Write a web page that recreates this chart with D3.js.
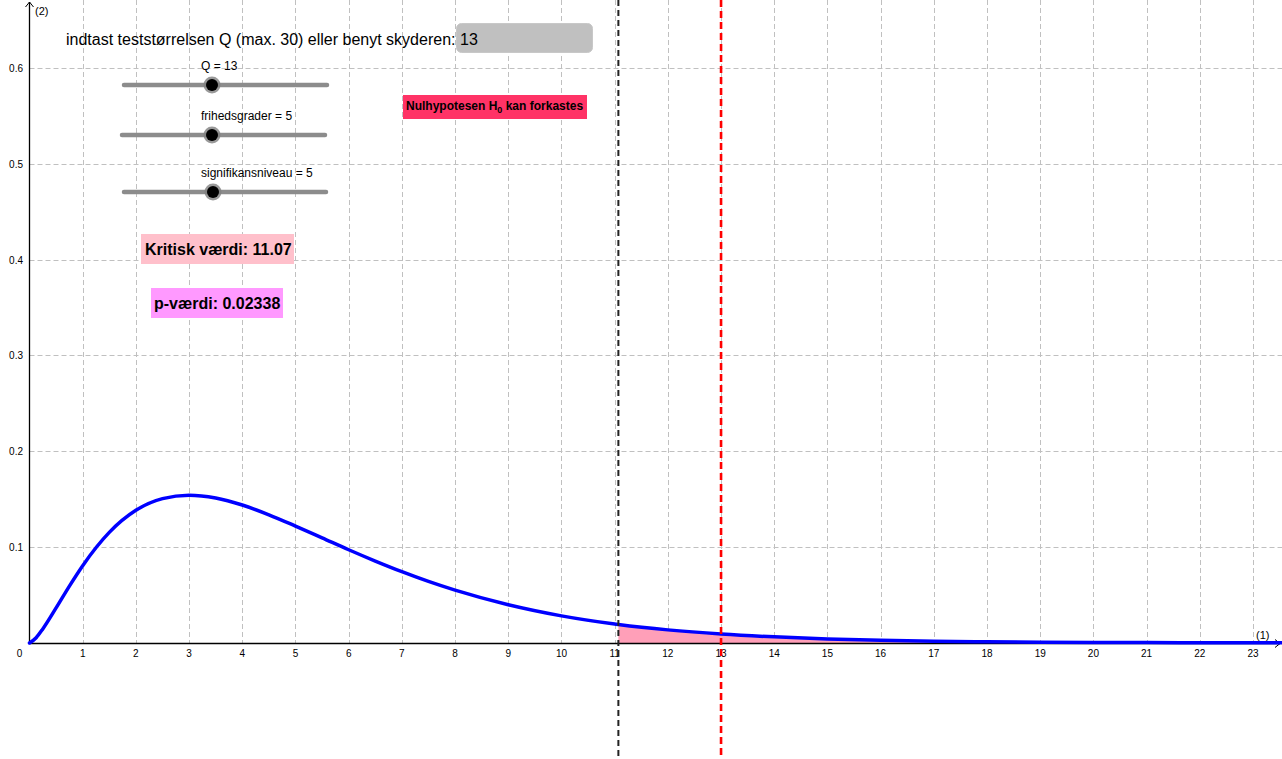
<!DOCTYPE html>
<html>
<head>
<meta charset="utf-8">
<script src="https://cdn.jsdelivr.net/npm/d3@7"></script>
<style>
  body { margin: 0; background: #fff; }
  svg { display: block; font-family: "Liberation Sans", Arial, sans-serif; }
</style>
</head>
<body>
<svg id="chart" width="1282" height="759"></svg>
<script>
// chi-square curve (5 df)
const curveX = [0, 0.125, 0.25, 0.5, 0.75, 1, 1.5, 2, 2.5, 3, 3.5, 4, 4.5, 5, 5.5, 6, 6.5, 7, 7.5, 8, 9, 10, 11, 11.07, 12, 13, 14, 15, 16, 17, 18, 19, 20, 21, 22, 23, 24];
const curveY = [0, 0.0055, 0.0147, 0.0366, 0.0594, 0.0807, 0.1154, 0.1384, 0.1506, 0.1542, 0.1513, 0.1440, 0.1338, 0.1220, 0.1097, 0.0973, 0.0855, 0.0744, 0.0642, 0.0551, 0.0399, 0.0283, 0.0198, 0.0193, 0.0137, 0.0094, 0.0064, 0.0043, 0.0029, 0.0019, 0.0013, 0.0008, 0.0005, 0.0004, 0.0002, 0.0002, 0.0001];

const xTicks = d3.range(0, 24);
const yTicks = [0.1, 0.2, 0.3, 0.4, 0.5, 0.6];

const Q = 13;
const critical = 11.07;
const pValue = 0.02338;
const df = 5;
const alpha = 5;

const sliders = [
  {label: 'Q = ' + Q, y: 85, x1: 124, x2: 327, knob: 212},
  {label: 'frihedsgrader = ' + df, y: 135, x1: 122, x2: 325, knob: 212},
  {label: 'signifikansniveau = ' + alpha, y: 192, x1: 124, x2: 326, knob: 213}
];

const width = 1282, height = 759;
const svg = d3.select('#chart');

const x = d3.scaleLinear().domain([0, 23]).range([29.5, 1253]);
const y = d3.scaleLinear().domain([0, 0.6]).range([643, 67.9]);

const pts = curveX.map((d, i) => ({x: d, y: curveY[i]}));

// grid
const grid = svg.append('g').attr('stroke', '#c0c0c0').attr('stroke-dasharray', '5,3').attr('stroke-width', 1);
grid.selectAll('.gx').data(xTicks.slice(1)).join('line')
  .attr('x1', d => Math.round(x(d)) + 0.5).attr('x2', d => Math.round(x(d)) + 0.5)
  .attr('y1', 0).attr('y2', y(0));
grid.selectAll('.gy').data(yTicks).join('line')
  .attr('x1', x(0)).attr('x2', width)
  .attr('y1', d => Math.round(y(d)) + 0.5).attr('y2', d => Math.round(y(d)) + 0.5);

// shaded tail
const tail = pts.filter(d => d.x >= critical);
svg.append('path')
  .datum(tail)
  .attr('fill', '#ff9fb8')
  .attr('d', d3.area().x(d => x(d.x)).y0(y(0)).y1(d => y(d.y)).curve(d3.curveMonotoneX));

// axes
const axisY0 = Math.round(y(0)) + 0.5;
svg.append('line').attr('x1', x(0)).attr('x2', width - 2).attr('y1', axisY0).attr('y2', axisY0)
  .attr('stroke', '#000').attr('stroke-width', 1.3);
svg.append('path').attr('d', `M${width - 7},${axisY0 - 4} L${width - 2},${axisY0} L${width - 7},${axisY0 + 4}`)
  .attr('fill', 'none').attr('stroke', '#000');
svg.append('line').attr('x1', x(0)).attr('x2', x(0)).attr('y1', 2).attr('y2', axisY0)
  .attr('stroke', '#000').attr('stroke-width', 1.3);
svg.append('path').attr('d', `M${x(0) - 4},7 L${x(0)},2 L${x(0) + 4},7`)
  .attr('fill', 'none').attr('stroke', '#000');
svg.append('text').attr('x', 35).attr('y', 15).attr('font-size', 11).text('(2)');
svg.append('text').attr('x', 1256).attr('y', 639).attr('font-size', 11).text('(1)');

svg.selectAll('.xl').data(xTicks).join('text')
  .attr('x', d => d === 0 ? x(0) - 10 : x(d))
  .attr('y', 657).attr('text-anchor', 'middle').attr('font-size', 10)
  .text(d => d);
svg.selectAll('.yl').data(yTicks).join('text')
  .attr('x', 23).attr('y', d => y(d) + 4).attr('text-anchor', 'end').attr('font-size', 10)
  .text(d => d);

// density curve
svg.append('path')
  .datum(pts)
  .attr('fill', 'none').attr('stroke', '#0000ff').attr('stroke-width', 3.5)
  .attr('stroke-linecap', 'round')
  .attr('d', d3.line().x(d => x(d.x)).y(d => y(d.y)).curve(d3.curveMonotoneX));

// critical value and Q lines
svg.append('line').attr('x1', x(critical)).attr('x2', x(critical)).attr('y1', 0).attr('y2', height)
  .attr('stroke', '#222').attr('stroke-width', 2).attr('stroke-dasharray', '6,4');
svg.append('line').attr('x1', x(Q)).attr('x2', x(Q)).attr('y1', 0).attr('y2', height)
  .attr('stroke', '#ff0000').attr('stroke-width', 2.6).attr('stroke-dasharray', '7,4');

// input field
svg.append('text').attr('x', 66).attr('y', 45).attr('font-size', 16).text('indtast teststørrelsen Q (max. 30) eller benyt skyderen:');
svg.append('rect').attr('x', 456.5).attr('y', 23.5).attr('width', 136).attr('height', 29).attr('rx', 5)
  .attr('fill', '#c0c0c0').attr('stroke', '#c8c8c8');
svg.append('text').attr('x', 460).attr('y', 45).attr('font-size', 16).text(Q);

// sliders
const sl = svg.selectAll('.slider').data(sliders).join('g');
sl.append('line').attr('x1', d => d.x1).attr('x2', d => d.x2).attr('y1', d => d.y).attr('y2', d => d.y)
  .attr('stroke', '#8c8c8c').attr('stroke-width', 4.5).attr('stroke-linecap', 'round');
sl.append('circle').attr('cx', d => d.knob).attr('cy', d => d.y).attr('r', 8.5).attr('fill', '#808080').attr('opacity', 0.8);
sl.append('circle').attr('cx', d => d.knob).attr('cy', d => d.y).attr('r', 6).attr('fill', '#000');
sl.append('text').attr('x', 201).attr('y', d => d.y - 15).attr('font-size', 12).text(d => d.label);

// hypothesis box
svg.append('rect').attr('x', 403).attr('y', 95).attr('width', 184).attr('height', 24).attr('fill', '#ff3366');
const h0 = svg.append('text').attr('x', 406).attr('y', 110).attr('font-size', 12).attr('font-weight', 'bold');
h0.append('tspan').text('Nulhypotesen H');
h0.append('tspan').attr('font-size', 9).attr('dy', 3).text('0');
h0.append('tspan').attr('dy', -3).text(' kan forkastes');

// value boxes
svg.append('rect').attr('x', 141).attr('y', 234).attr('width', 153).attr('height', 30).attr('fill', '#ffc0cb');
svg.append('text').attr('x', 145).attr('y', 255).attr('font-size', 16).attr('font-weight', 'bold').text('Kritisk værdi: ' + critical.toFixed(2));
svg.append('rect').attr('x', 151).attr('y', 288).attr('width', 132).attr('height', 30).attr('fill', '#ff99ff');
svg.append('text').attr('x', 154).attr('y', 309).attr('font-size', 16).attr('font-weight', 'bold').text('p-værdi: ' + pValue);
</script>
</body>
</html>
